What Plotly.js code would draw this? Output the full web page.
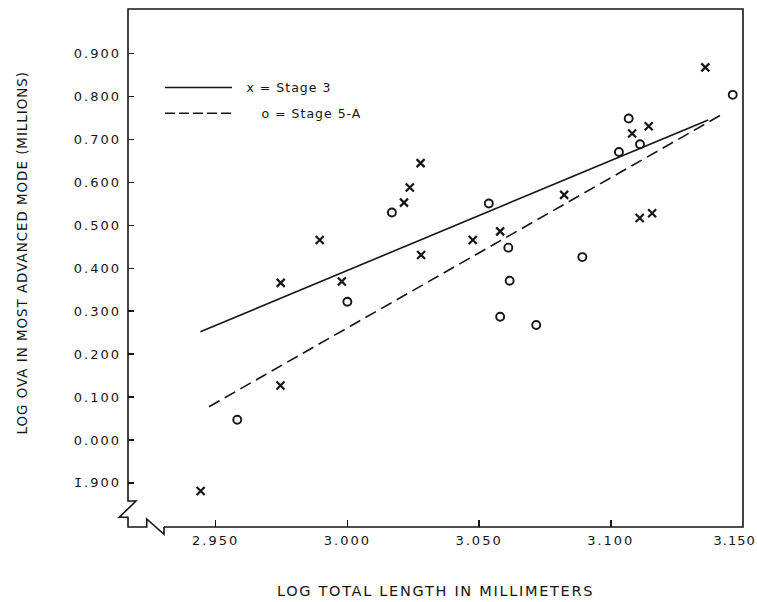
<!DOCTYPE html>
<html><head><meta charset="utf-8">
<script src="https://cdn.plot.ly/plotly-3.0.1.min.js"></script>
<style>
html,body{margin:0;padding:0;background:#fff;}
#chart{width:757px;height:602px;}
.main-svg text{letter-spacing:1px;}
.xtick text,.ytick text{letter-spacing:2px;}
.g-xtitle text{letter-spacing:1.7px;}
</style></head><body><div id="chart"></div>
<script>
// Stage 3 (x marks)
const stage3X = [2.9443, 2.9746, 2.9747, 2.9895, 2.9979, 3.0215, 3.0237, 3.0278, 3.0280, 3.0476, 3.0580, 3.0823, 3.1081, 3.1110, 3.1144, 3.1157, 3.1359];
const stage3Y = [-0.119, 0.127, 0.366, 0.466, 0.369, 0.553, 0.588, 0.645, 0.431, 0.466, 0.486, 0.571, 0.714, 0.517, 0.731, 0.528, 0.868];
// Stage 5-A (o marks)
const stage5X = [2.9582, 3.0000, 3.0169, 3.0537, 3.0580, 3.0611, 3.0616, 3.0717, 3.0892, 3.1031, 3.1068, 3.1111, 3.1463];
const stage5Y = [0.047, 0.322, 0.530, 0.551, 0.287, 0.448, 0.371, 0.268, 0.426, 0.671, 0.749, 0.689, 0.804];
// Regression lines (end points)
const fit3X = [2.9442, 3.1370];
const fit3Y = [0.2523, 0.7454];
const fit5X = [2.9475, 3.1425];
const fit5Y = [0.0776, 0.7594];
// Ticks
const xTickVals = [2.95, 3.00, 3.05, 3.10, 3.15];
const xTickText = ['2.950', '3.000', '3.050', '3.100', '3.150'];
const yTickVals = [-0.1, 0.0, 0.1, 0.2, 0.3, 0.4, 0.5, 0.6, 0.7, 0.8, 0.9];
const yTickText = ['1\u0304.900', '0.000', '0.100', '0.200', '0.300', '0.400', '0.500', '0.600', '0.700', '0.800', '0.900'];
const legendLabels = ['x = Stage 3', 'o = Stage 5-A'];
const xTitle = 'LOG TOTAL LENGTH IN MILLIMETERS';
const yTitle = 'LOG OVA IN MOST ADVANCED MODE (MILLIONS)';

const M = {l: 128, r: 14, t: 9, b: 75};
const W = 757 - M.l - M.r, H = 602 - M.t - M.b;
const fx = px => (px - M.l) / W;
const fy = py => 1 - (py - M.t) / H;
const pth = pts => pts.map((p, i) => (i ? 'L' : 'M') + fx(p[0]).toFixed(5) + ',' + fy(p[1]).toFixed(5)).join(' ');

const ink = '#151515';
const font = {family: 'DejaVu Sans, sans-serif', color: ink};

const traces = [
  {x: fit3X, y: fit3Y, mode: 'lines', line: {color: ink, width: 1.6}, hoverinfo: 'skip', showlegend: false},
  {x: fit5X, y: fit5Y, mode: 'lines', line: {color: ink, width: 1.6, dash: '12px,6px'}, hoverinfo: 'skip', showlegend: false},
  {x: stage3X, y: stage3Y, mode: 'markers', name: 'Stage 3',
   marker: {symbol: 'x-thin-open', size: 8, color: ink, line: {color: ink, width: 2.2}}, showlegend: false},
  {x: stage5X, y: stage5Y, mode: 'markers', name: 'Stage 5-A',
   marker: {symbol: 'circle-open', size: 8, color: ink, line: {color: ink, width: 1.9}}, showlegend: false}
];

const frame = [[164,527],[743,527],[743,9],[128,9],[128,501],[136,501],[119.3,517.3],[128,517.3],[128,527],[146.7,527],[146.7,519],[164,534.3],[164,527]];

const shapes = [
  {type: 'path', xref: 'paper', yref: 'paper', path: pth(frame), line: {color: ink, width: 1.6}},
  {type: 'line', xref: 'paper', yref: 'paper', x0: fx(165), x1: fx(232), y0: fy(87.5), y1: fy(87.5), line: {color: ink, width: 1.6}},
  {type: 'line', xref: 'paper', yref: 'paper', x0: fx(165), x1: fx(232), y0: fy(113.3), y1: fy(113.3), line: {color: ink, width: 1.6, dash: '10px,4px'}}
];

// last x tick label sits left of its tick in the reference (kept inside the page)
const lastIdx = xTickVals.length - 1;
const annotations = [
  {xref: 'paper', yref: 'paper', x: fx(250), y: fy(87.5), xanchor: 'left', yanchor: 'middle', text: legendLabels[0], showarrow: false, font: Object.assign({size: 12.5}, font)},
  {xref: 'paper', yref: 'paper', x: fx(266), y: fy(113.3), xanchor: 'left', yanchor: 'middle', text: legendLabels[1], showarrow: false, font: Object.assign({size: 12.5}, font)},
  {xref: 'paper', yref: 'paper', x: fx(22), y: fy(252.5), xanchor: 'center', yanchor: 'middle', textangle: -90, text: yTitle, showarrow: false, font: Object.assign({size: 13.4}, font)},
  {xref: 'x', yref: 'paper', x: xTickVals[lastIdx], y: fy(540.5), xanchor: 'right', yanchor: 'middle', xshift: 13, text: xTickText[lastIdx], showarrow: false, font: Object.assign({size: 13}, font)}
];

const layout = {
  width: 757, height: 602,
  margin: M,
  paper_bgcolor: '#fff', plot_bgcolor: '#fff',
  font: Object.assign({size: 13}, font),
  showlegend: false,
  xaxis: {
    range: [3.1502 - W / 2634, 3.1502], showgrid: false, zeroline: false, showline: false,
    tickmode: 'array', tickvals: xTickVals, ticktext: xTickText.slice(0, lastIdx).concat(['']),
    ticks: 'inside', ticklen: 7, tickwidth: 1.5, tickcolor: ink,
    tickfont: Object.assign({size: 13}, font), ticklabelstandoff: 4,
    title: {text: xTitle, font: Object.assign({size: 14.5}, font), standoff: 38}
  },
  yaxis: {
    range: [(440 - 527) / 429.3, (440 - 9) / 429.3], showgrid: false, zeroline: false, showline: false,
    tickmode: 'array', tickvals: yTickVals, ticktext: yTickText,
    ticks: 'inside', ticklen: 6, tickwidth: 1.5, tickcolor: ink,
    tickfont: Object.assign({size: 13}, font), ticklabelstandoff: 6
  },
  shapes: shapes,
  annotations: annotations
};

Plotly.newPlot('chart', traces, layout, {staticPlot: true, displayModeBar: false});
</script></body></html>
